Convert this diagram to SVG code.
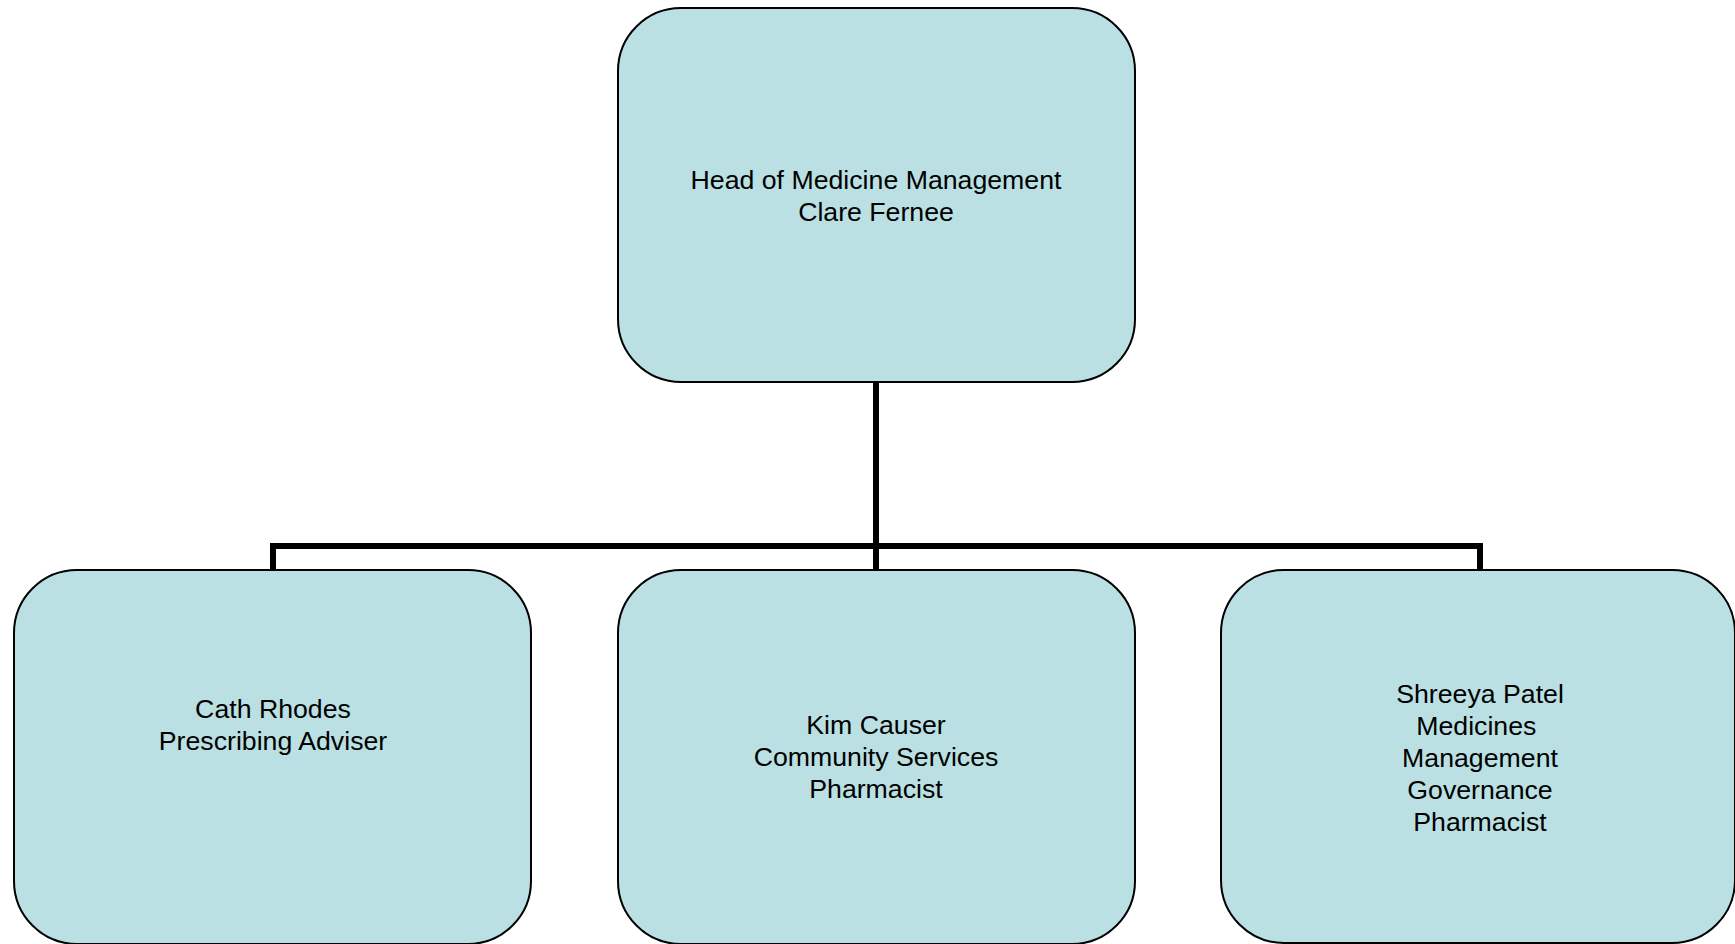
<svg xmlns="http://www.w3.org/2000/svg" width="1735" height="944" viewBox="0 0 1735 944">
<style>
.box{fill:#BAE0E3;stroke:#000;stroke-width:2}
.lbl{font-family:"Liberation Sans",Arial,sans-serif;font-size:26.7px;fill:#000;text-anchor:middle;white-space:pre}
.conn{fill:none;stroke:#000;stroke-width:6;stroke-linejoin:miter}
</style>
<rect width="1735" height="944" fill="#fff"/>
<g id="connectors">
<path class="conn" d="M876,382 V546 M273,570 V546 H1480 V570 M876,546 V570"/>
</g>
<g id="node-head">
<rect class="box" x="618" y="8" width="517" height="374" rx="63" ry="63"/>
<text class="lbl" x="876" y="189">Head of Medicine Management</text>
<text class="lbl" x="876" y="221">Clare Fernee</text>
</g>
<g id="node-cath">
<rect class="box" x="14" y="570" width="517" height="374" rx="63" ry="63"/>
<text class="lbl" x="273" y="718">Cath Rhodes</text>
<text class="lbl" x="273" y="750">Prescribing Adviser</text>
</g>
<g id="node-kim">
<rect class="box" x="618" y="570" width="517" height="374" rx="63" ry="63"/>
<text class="lbl" x="876" y="734">Kim Causer</text>
<text class="lbl" x="876" y="766">Community Services</text>
<text class="lbl" x="876" y="798">Pharmacist</text>
</g>
<g id="node-shreeya">
<rect class="box" x="1221" y="570" width="514" height="373" rx="63" ry="63"/>
<text class="lbl" x="1480" y="703">Shreeya Patel</text>
<text class="lbl" x="1480" y="735">Medicines </text>
<text class="lbl" x="1480" y="767">Management</text>
<text class="lbl" x="1480" y="799">Governance</text>
<text class="lbl" x="1480" y="831">Pharmacist</text>
</g>
</svg>
